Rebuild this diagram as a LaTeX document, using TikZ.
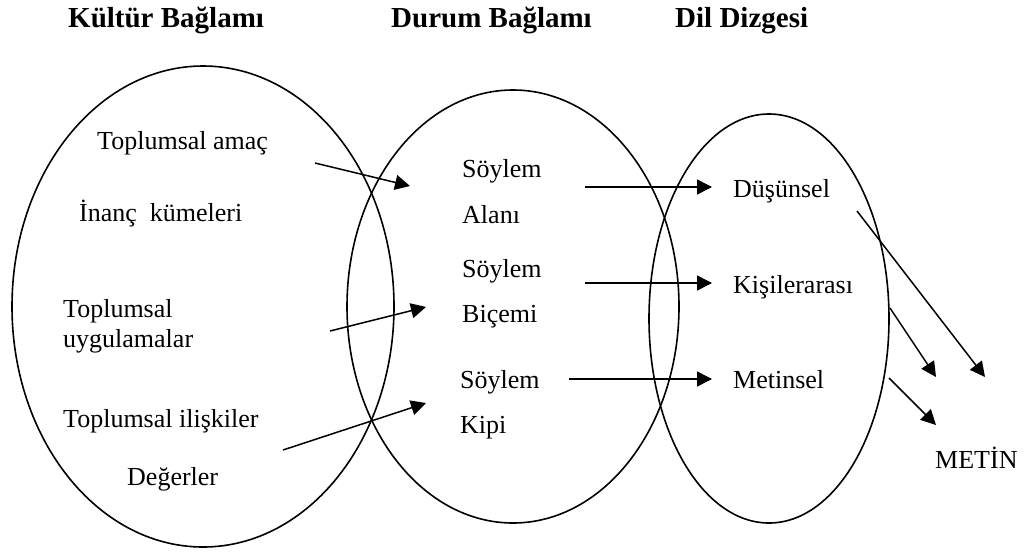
\documentclass[tikz,border=0pt]{standalone}
\usepackage{fontspec}
\setmainfont{Liberation Serif}
\usetikzlibrary{arrows.meta,shapes.geometric}
\begin{document}
\begin{tikzpicture}[x=1pt,y=-1pt,
  title/.style={font=\fontsize{29}{34}\selectfont\bfseries, anchor=base west, inner sep=0pt},
  lbl/.style={font=\fontsize{26}{31}\selectfont, anchor=base west, inner sep=0pt},
  circ/.style={draw, ellipse, line width=1.6pt, inner sep=0pt, outer sep=0pt},
  arr/.style={line width=1.5pt, -{Triangle[length=15pt,width=15pt]}}]
\useasboundingbox (0,0) rectangle (1024,552);
% ellipses
\node[circ, minimum width=382pt, minimum height=481pt] (kultur) at (203,306.5) {};
\node[circ, minimum width=332pt, minimum height=433pt] (durum) at (513,306.5) {};
\node[circ, minimum width=240pt, minimum height=409pt] (dil) at (769,318.5) {};
% titles
\node[title] (t1) at (68,27) {Kültür Bağlamı};
\node[title] (t2) at (391,27) {Durum Bağlamı};
\node[title] (t3) at (675,27) {Dil Dizgesi};
% left labels
\node[lbl] (l1) at (97,149) {Toplumsal amaç};
\node[lbl] (l2) at (79,221) {İnanç\ \ kümeleri};
\node[lbl] (l3) at (63,317) {Toplumsal};
\node[lbl] (l4) at (63,347) {uygulamalar};
\node[lbl] (l5) at (63,427) {Toplumsal ilişkiler};
\node[lbl] (l6) at (127,485) {Değerler};
% middle labels
\node[lbl] (m1) at (462,177) {Söylem};
\node[lbl] (m2) at (462,223) {Alanı};
\node[lbl] (m3) at (462,277) {Söylem};
\node[lbl] (m4) at (462,322) {Biçemi};
\node[lbl] (m5) at (460,388) {Söylem};
\node[lbl] (m6) at (460,433) {Kipi};
% right labels
\node[lbl] (r1) at (733,197) {Düşünsel};
\node[lbl] (r2) at (733,293) {Kişilerarası};
\node[lbl] (r3) at (733,388) {Metinsel};
\node[lbl] (metin) at (935,468) {METİN};
% arrow end points
\coordinate (a1s) at (315,163); \coordinate (a1e) at (410,186);
\coordinate (a2s) at (330,331); \coordinate (a2e) at (426,307);
\coordinate (a3s) at (283,450); \coordinate (a3e) at (426,403);
\coordinate (b1s) at (585,187); \coordinate (b1e) at (712,187);
\coordinate (b2s) at (585,283); \coordinate (b2e) at (712,283);
\coordinate (b3s) at (569,379); \coordinate (b3e) at (712,379);
\coordinate (c1s) at (857,211); \coordinate (c1e) at (985,377);
\coordinate (c2s) at (890,308); \coordinate (c2e) at (936,377);
\coordinate (c3s) at (889,378); \coordinate (c3e) at (936,425);
% arrows
\draw[arr] (a1s) -- (a1e);
\draw[arr] (a2s) -- (a2e);
\draw[arr] (a3s) -- (a3e);
\draw[arr] (b1s) -- (b1e);
\draw[arr] (b2s) -- (b2e);
\draw[arr] (b3s) -- (b3e);
\draw[arr] (c1s) -- (c1e);
\draw[arr] (c2s) -- (c2e);
\draw[arr] (c3s) -- (c3e);
\end{tikzpicture}
\end{document}
